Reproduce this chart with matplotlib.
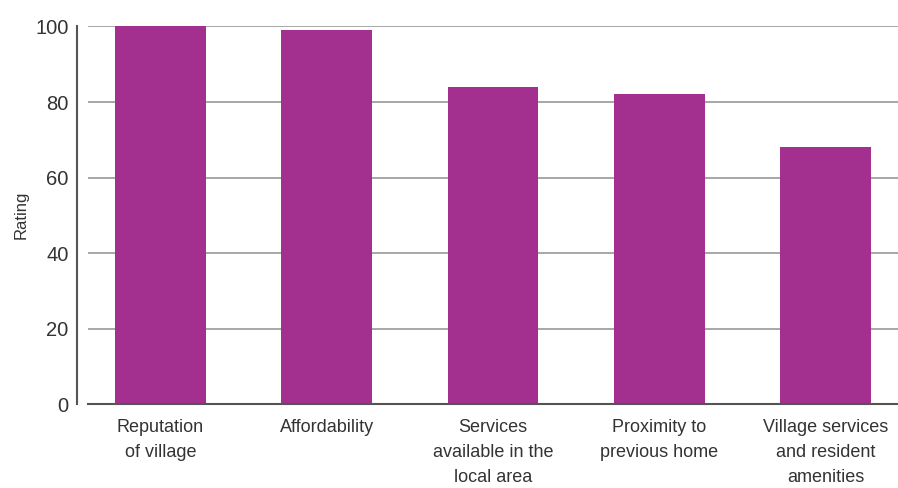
import matplotlib
matplotlib.use("Agg")
import matplotlib.pyplot as plt

categories = ["Reputation\nof village", "Affordability", "Services\navailable in the\nlocal area",
              "Proximity to\nprevious home", "Village services\nand resident\namenities"]
ratings = [100, 99, 84, 82, 68]
yticks = [0, 20, 40, 60, 80, 100]

plt.rcParams['font.family'] = ['Liberation Sans', 'DejaVu Sans']

fig = plt.figure(figsize=(8.98, 4.88), dpi=100)
ax = fig.add_axes([0.098, 0.172, 0.902, 0.7737])

x = range(len(categories))
ax.bar(x, ratings, width=0.547, color="#A3308F", zorder=3)

ax.set_ylim(0, 100)
ax.set_xlim(-0.436, len(categories) - 1 + 0.436)
ax.set_yticks(yticks)
ax.set_xticks(list(x))
ax.set_xticklabels(categories, fontsize=13, color="#333333", linespacing=1.62, va="top")
ax.tick_params(axis="y", labelsize=14.5, colors="#333333", length=0, pad=6)
ax.tick_params(axis="x", length=0, pad=11)
ax.yaxis.grid(True, color="#a0a0a0", linewidth=1.3, zorder=0)
ax.set_ylabel("Rating", fontsize=12, color="#333333", labelpad=5)

for side in ["top", "right"]:
    ax.spines[side].set_visible(False)
ax.spines["left"].set_position(("outward", 8))
ax.spines["left"].set_color("#555555")
ax.spines["left"].set_linewidth(1.5)
ax.spines["bottom"].set_color("#555555")
ax.spines["bottom"].set_linewidth(1.5)
ax.spines["bottom"].set_zorder(4)

fig.savefig("out.png", dpi=100)
